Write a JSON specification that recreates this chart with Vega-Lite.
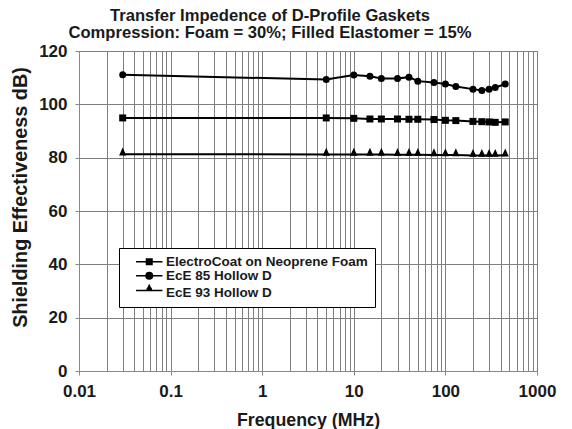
{
  "$schema": "https://vega.github.io/schema/vega-lite/v6.json",
  "width": 458,
  "height": 320,
  "autosize": {"type": "none"},
  "padding": {"left": 79, "top": 51, "right": 35, "bottom": 58},
  "background": "white",
  "title": {
    "text": ["Transfer Impedence of D-Profile Gaskets", "Compression: Foam = 30%; Filled Elastomer = 15%"],
    "font": "Liberation Sans",
    "fontSize": 16.6,
    "fontWeight": "bold",
    "color": "#1a1a1a",
    "anchor": "middle",
    "dx": -38,
    "offset": 0,
    "lineHeight": 17.3
  },
  "config": {
    "view": {"stroke": "#888888", "strokeWidth": 1},
    "axis": {
      "labelFont": "Liberation Sans",
      "labelFontSize": 17,
      "labelFontWeight": "bold",
      "labelColor": "#1a1a1a",
      "titleFont": "Liberation Sans",
      "titleFontSize": 17.8,
      "titleFontWeight": "bold",
      "titleColor": "#1a1a1a",
      "gridColor": "#808080",
      "gridOpacity": 1,
      "gridWidth": 1,
      "domainColor": "#888888",
      "tickColor": "#888888",
      "tickSize": 4,
      "labelPadding": 8
    },
    "axisY": {"titleFontSize": 19.8}
  },
  "data": {
    "values": [
      {"f": 0.03, "v": 94.9, "s": "ElectroCoat on Neoprene Foam"},
      {"f": 5, "v": 94.9, "s": "ElectroCoat on Neoprene Foam"},
      {"f": 10, "v": 94.75, "s": "ElectroCoat on Neoprene Foam"},
      {"f": 15, "v": 94.5, "s": "ElectroCoat on Neoprene Foam"},
      {"f": 20, "v": 94.5, "s": "ElectroCoat on Neoprene Foam"},
      {"f": 30, "v": 94.5, "s": "ElectroCoat on Neoprene Foam"},
      {"f": 40, "v": 94.4, "s": "ElectroCoat on Neoprene Foam"},
      {"f": 50, "v": 94.4, "s": "ElectroCoat on Neoprene Foam"},
      {"f": 75, "v": 94.3, "s": "ElectroCoat on Neoprene Foam"},
      {"f": 100, "v": 94.0, "s": "ElectroCoat on Neoprene Foam"},
      {"f": 130, "v": 93.9, "s": "ElectroCoat on Neoprene Foam"},
      {"f": 200, "v": 93.6, "s": "ElectroCoat on Neoprene Foam"},
      {"f": 250, "v": 93.5, "s": "ElectroCoat on Neoprene Foam"},
      {"f": 300, "v": 93.4, "s": "ElectroCoat on Neoprene Foam"},
      {"f": 350, "v": 93.25, "s": "ElectroCoat on Neoprene Foam"},
      {"f": 450, "v": 93.4, "s": "ElectroCoat on Neoprene Foam"},
      {"f": 0.03, "v": 111.1, "s": "EcE 85 Hollow D"},
      {"f": 5, "v": 109.3, "s": "EcE 85 Hollow D"},
      {"f": 10, "v": 111.0, "s": "EcE 85 Hollow D"},
      {"f": 15, "v": 110.5, "s": "EcE 85 Hollow D"},
      {"f": 20, "v": 109.7, "s": "EcE 85 Hollow D"},
      {"f": 30, "v": 109.7, "s": "EcE 85 Hollow D"},
      {"f": 40, "v": 110.2, "s": "EcE 85 Hollow D"},
      {"f": 50, "v": 108.7, "s": "EcE 85 Hollow D"},
      {"f": 75, "v": 108.2, "s": "EcE 85 Hollow D"},
      {"f": 100, "v": 107.6, "s": "EcE 85 Hollow D"},
      {"f": 130, "v": 106.7, "s": "EcE 85 Hollow D"},
      {"f": 200, "v": 105.7, "s": "EcE 85 Hollow D"},
      {"f": 250, "v": 105.2, "s": "EcE 85 Hollow D"},
      {"f": 300, "v": 105.7, "s": "EcE 85 Hollow D"},
      {"f": 350, "v": 106.3, "s": "EcE 85 Hollow D"},
      {"f": 450, "v": 107.6, "s": "EcE 85 Hollow D"},
      {"f": 0.03, "v": 81.3, "s": "EcE 93 Hollow D"},
      {"f": 5, "v": 81.2, "s": "EcE 93 Hollow D"},
      {"f": 10, "v": 81.2, "s": "EcE 93 Hollow D"},
      {"f": 15, "v": 81.2, "s": "EcE 93 Hollow D"},
      {"f": 20, "v": 81.2, "s": "EcE 93 Hollow D"},
      {"f": 30, "v": 81.1, "s": "EcE 93 Hollow D"},
      {"f": 40, "v": 81.1, "s": "EcE 93 Hollow D"},
      {"f": 50, "v": 81.1, "s": "EcE 93 Hollow D"},
      {"f": 75, "v": 81.0, "s": "EcE 93 Hollow D"},
      {"f": 100, "v": 81.0, "s": "EcE 93 Hollow D"},
      {"f": 130, "v": 81.0, "s": "EcE 93 Hollow D"},
      {"f": 200, "v": 80.8, "s": "EcE 93 Hollow D"},
      {"f": 250, "v": 80.8, "s": "EcE 93 Hollow D"},
      {"f": 300, "v": 80.8, "s": "EcE 93 Hollow D"},
      {"f": 350, "v": 80.8, "s": "EcE 93 Hollow D"},
      {"f": 450, "v": 80.9, "s": "EcE 93 Hollow D"}
    ]
  },
  "encoding": {
    "x": {
      "field": "f",
      "type": "quantitative",
      "title": "Frequency (MHz)",
      "scale": {"type": "log", "domain": [0.01, 1000], "nice": false},
      "axis": {
        "values": [0.01, 0.02, 0.03, 0.04, 0.05, 0.06, 0.07, 0.08, 0.09, 0.1, 0.2, 0.3, 0.4, 0.5, 0.6, 0.7, 0.8, 0.9, 1, 2, 3, 4, 5, 6, 7, 8, 9, 10, 20, 30, 40, 50, 60, 70, 80, 90, 100, 200, 300, 400, 500, 600, 700, 800, 900, 1000],
        "labelExpr": "abs(log(datum.value)/LN10 - round(log(datum.value)/LN10)) < 0.001 ? format(datum.value, '~g') : ''",
        "labelOverlap": false,
        "labelFlush": false,
        "tickOpacity": {"condition": {"test": "abs(log(datum.value)/LN10 - round(log(datum.value)/LN10)) < 0.001", "value": 1}, "value": 0},
        "titlePadding": 12
      }
    },
    "y": {
      "field": "v",
      "type": "quantitative",
      "title": "Shielding Effectiveness dB)",
      "scale": {"domain": [0, 120], "nice": false},
      "axis": {"values": [0, 20, 40, 60, 80, 100, 120], "labelFlush": false, "titlePadding": 8, "titleY": 146}
    }
  },
  "layer": [
    {
      "mark": {"type": "line", "color": "black", "strokeWidth": 2},
      "encoding": {"detail": {"field": "s"}}
    },
    {
      "mark": {"type": "point", "filled": true, "color": "black", "opacity": 1, "size": 49},
      "encoding": {
        "shape": {
          "field": "s",
          "scale": {
            "domain": ["ElectroCoat on Neoprene Foam", "EcE 85 Hollow D", "EcE 93 Hollow D"],
            "range": ["square", "circle", "M0,-1.9L1.03,0.37L-1.03,0.37Z"]
          },
          "legend": null
        }
      }
    },
    {
      "mark": {"type": "point", "filled": false, "color": "black", "opacity": 0, "size": 64, "strokeWidth": 1.6},
      "encoding": {
        "shape": {
          "field": "s",
          "scale": {
            "domain": ["ElectroCoat on Neoprene Foam", "EcE 85 Hollow D", "EcE 93 Hollow D"],
            "range": [
              "M0.825,0H7.425M3.25,-0.7H5M3.25,-0.35H5M3.25,0.35H5M3.25,0.7H5",
              "M0.825,0H7.425M4.925,0A0.8,0.8,0,1,1,3.325,0A0.8,0.8,0,1,1,4.925,0M4.625,0A0.5,0.5,0,1,1,3.625,0A0.5,0.5,0,1,1,4.625,0M4.325,0A0.2,0.2,0,1,1,3.925,0A0.2,0.2,0,1,1,4.325,0",
              "M0.825,-0.5H7.425M3.43,-0.85H4.82M3.625,-1.2H4.625M3.815,-1.55H4.435M3.985,-1.85H4.265"
            ]
          },
          "legend": {
            "orient": "none",
            "legendX": 40,
            "legendY": 197,
            "title": null,
            "symbolSize": 64,
            "symbolOpacity": 1,
            "symbolStrokeColor": "black",
            "symbolStrokeWidth": 1.6,
            "labelFont": "Liberation Sans",
            "labelFontSize": 13.5,
            "labelFontWeight": "bold",
            "labelColor": "#1a1a1a",
            "labelOffset": 26.5,
            "labelLimit": 400,
            "rowPadding": -1.2,
            "padding": 7,
            "strokeColor": "black",
            "fillColor": "white"
          }
        }
      }
    }
  ],
  "resolve": {"scale": {"shape": "independent"}}
}
